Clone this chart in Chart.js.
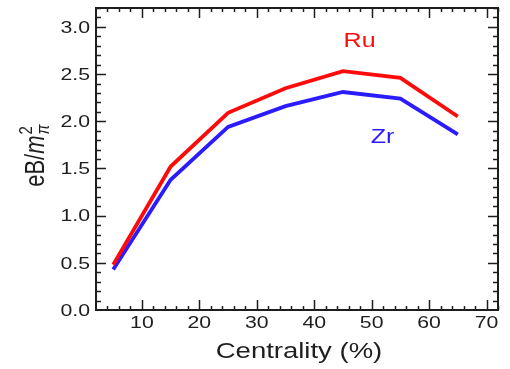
<!DOCTYPE html>
<html>
<head>
<meta charset="utf-8">
<script src="https://cdn.jsdelivr.net/npm/chart.js@4"></script>
<style>
  html, body { margin: 0; padding: 0; background: #fff; }
  #wrap { width: 510px; height: 369px; }
</style>
</head>
<body>
<div id="wrap"><canvas id="fieldChart" width="510" height="369"></canvas></div>
<script>
// Datos
const centrality = [5, 15, 25, 35, 45, 55, 65];
const ruValues = [0.48, 1.52, 2.09, 2.35, 2.53, 2.46, 2.05];
const zrValues = [0.43, 1.38, 1.94, 2.16, 2.31, 2.24, 1.86];
const xTicks = [10, 20, 30, 40, 50, 60, 70];
const yTicks = [0.0, 0.5, 1.0, 1.5, 2.0, 2.5, 3.0];

const FONT = "'Liberation Sans', Arial, sans-serif";
const AXIS = '#1e1e1e';
const STRETCH = 1.25; // el original tiene el texto algo ensanchado

function wideText(ctx, text, x, y, align) {
  ctx.save();
  ctx.translate(x, y);
  ctx.scale(STRETCH, 1);
  ctx.textAlign = align;
  ctx.fillText(text, 0, 0);
  ctx.restore();
}

// Marcas hacia dentro, textos de ejes, etiquetas Ru / Zr
const decor = {
  id: 'decor',
  afterDatasetsDraw(chart) {
    const { ctx, chartArea: a, scales: { x, y } } = chart;
    ctx.save();
    ctx.strokeStyle = AXIS;
    ctx.lineWidth = 1.5;
    // ticks eje X (menores cada 2)
    for (let v = 4; v <= 72; v += 2) {
      const px = Math.round(x.getPixelForValue(v)) + 0.5;
      const len = v % 10 === 0 ? 10 : 4;
      ctx.beginPath();
      ctx.moveTo(px, a.bottom); ctx.lineTo(px, a.bottom - len);
      ctx.moveTo(px, a.top); ctx.lineTo(px, a.top + len);
      ctx.stroke();
    }
    // ticks eje Y (menores cada 0.1)
    for (let i = 1; i <= 32; i++) {
      const v = i / 10;
      const py = Math.round(y.getPixelForValue(v)) + 0.5;
      const len = i % 5 === 0 ? 10 : 5;
      ctx.beginPath();
      ctx.moveTo(a.left, py); ctx.lineTo(a.left + len, py);
      ctx.moveTo(a.right, py); ctx.lineTo(a.right - len, py);
      ctx.stroke();
    }
    // marco
    ctx.lineWidth = 2;
    ctx.strokeRect(a.left, a.top, a.right - a.left, a.bottom - a.top);

    // etiquetas de ticks
    ctx.fillStyle = AXIS;
    ctx.font = '17px ' + FONT;
    ctx.textBaseline = 'middle';
    yTicks.forEach(v => wideText(ctx, v.toFixed(1), a.left - 6, y.getPixelForValue(v) + 1, 'right'));
    xTicks.forEach(v => wideText(ctx, String(v), x.getPixelForValue(v), a.bottom + 13, 'center'));

    // título eje X
    ctx.font = '22px ' + FONT;
    wideText(ctx, 'Centrality (%)', (a.left + a.right) / 2 + 2, a.bottom + 42, 'center');

    // etiquetas de series
    ctx.font = '20px ' + FONT;
    ctx.fillStyle = '#ff0a0a';
    wideText(ctx, 'Ru', x.getPixelForValue(47.9), y.getPixelForValue(2.84), 'center');
    ctx.fillStyle = '#2a1cff';
    wideText(ctx, 'Zr', x.getPixelForValue(51.9), y.getPixelForValue(1.83), 'center');

    // título eje Y: eB/m_π^2
    ctx.translate(44, (a.top + a.bottom) / 2 - 3);
    ctx.rotate(-Math.PI / 2);
    ctx.scale(1, STRETCH);
    ctx.fillStyle = AXIS;
    ctx.textAlign = 'left';
    ctx.textBaseline = 'alphabetic';
    const base = '22px ' + FONT;
    ctx.font = base;
    const w1 = ctx.measureText('eB/').width;
    ctx.font = 'italic ' + base;
    const w2 = ctx.measureText('m').width;
    ctx.font = '15px ' + FONT;
    const w3 = Math.max(ctx.measureText('2').width, ctx.measureText('π').width);
    let cx = -(w1 + w2 + w3) / 2;
    ctx.font = base;
    ctx.fillText('eB/', cx, 0); cx += w1;
    ctx.font = 'italic ' + base;
    ctx.fillText('m', cx, 0); cx += w2;
    ctx.font = '15px ' + FONT;
    ctx.fillText('2', cx + 1, -10);
    ctx.font = 'italic 15px ' + FONT;
    ctx.fillText('π', cx + 1, 4);
    ctx.restore();
  }
};

const data = {
  datasets: [
    {
      label: 'Ru',
      data: centrality.map((c, i) => ({ x: c, y: ruValues[i] })),
      borderColor: '#ff0a0a',
      borderWidth: 3.8,
      pointRadius: 0,
      fill: false,
      tension: 0,
    },
    {
      label: 'Zr',
      data: centrality.map((c, i) => ({ x: c, y: zrValues[i] })),
      borderColor: '#2a1cff',
      borderWidth: 3.8,
      pointRadius: 0,
      fill: false,
      tension: 0,
    }
  ]
};

const config = {
  type: 'line',
  data: data,
  options: {
    responsive: false,
    animation: false,
    layout: { padding: { left: 0, right: 12, top: 8, bottom: 0 } },
    plugins: {
      legend: { display: false },
      tooltip: { enabled: false },
    },
    scales: {
      x: {
        type: 'linear',
        min: 2,
        max: 72,
        afterBuildTicks: s => { s.ticks = xTicks.map(v => ({ value: v })); },
        afterFit: s => { s.height = 59; },
        grid: { display: false, drawTicks: false },
        border: { display: false },
        ticks: { display: false },
      },
      y: {
        type: 'linear',
        min: 0,
        max: 3.2,
        afterBuildTicks: s => { s.ticks = yTicks.map(v => ({ value: v })); },
        afterFit: s => { s.width = 96; },
        grid: { display: false, drawTicks: false },
        border: { display: false },
        ticks: { display: false },
      }
    }
  },
  plugins: [decor],
};

const fieldChart = new Chart(document.getElementById('fieldChart'), config);
</script>
</body>
</html>
